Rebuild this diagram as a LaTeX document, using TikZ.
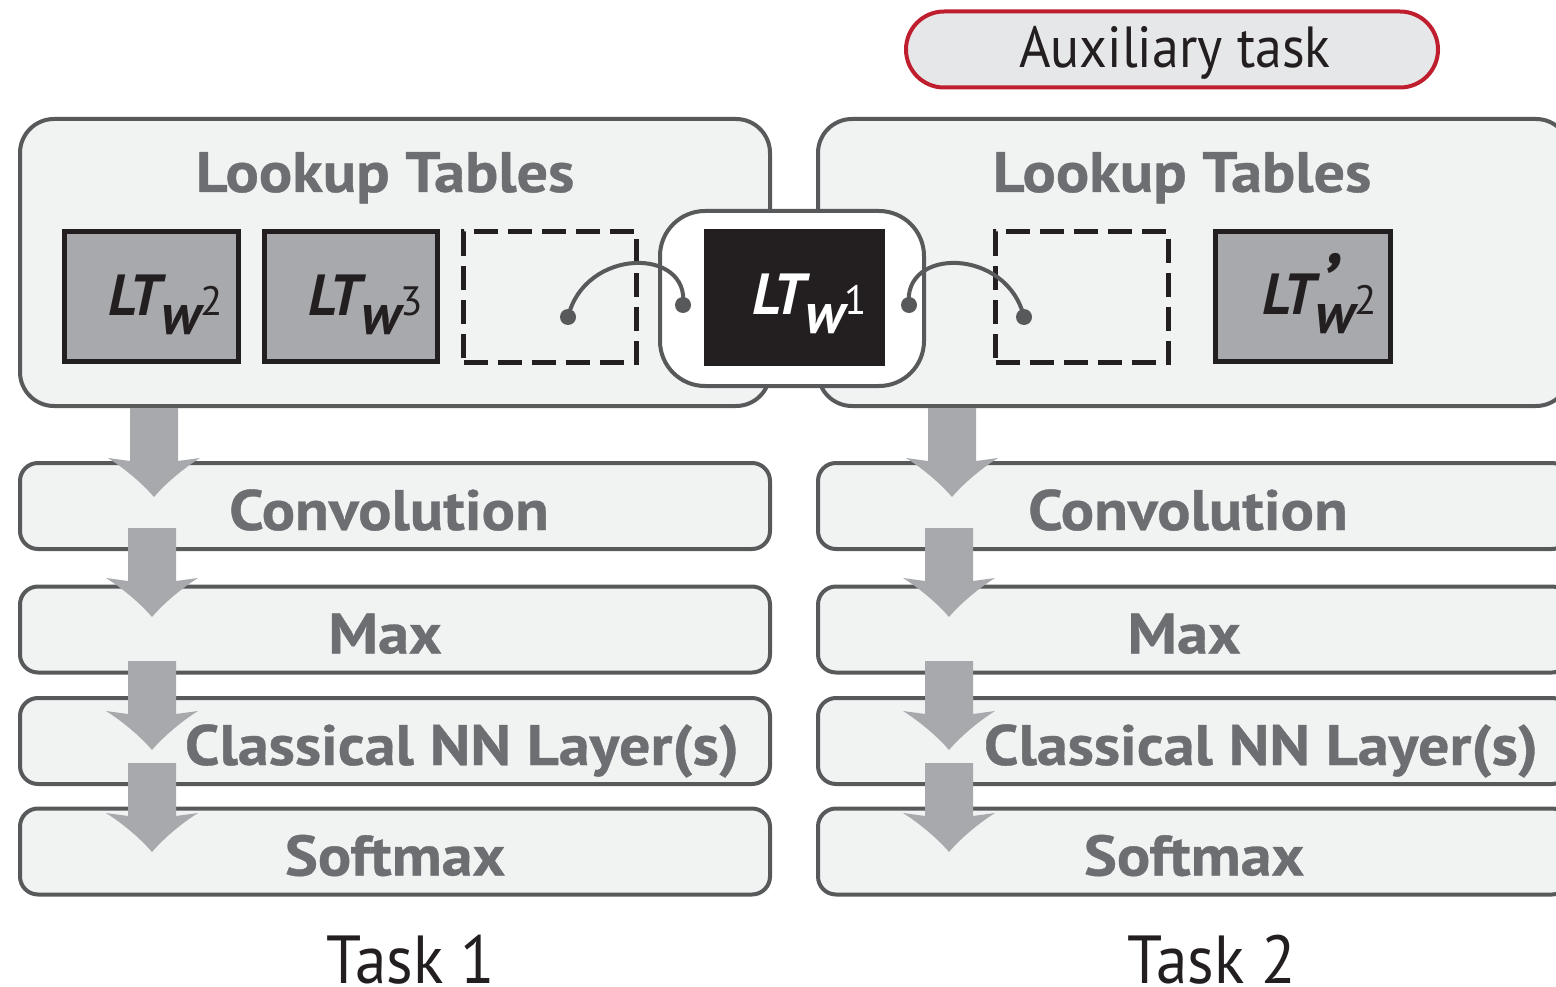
\documentclass[tikz,border=0pt]{standalone}
\usepackage{fontspec}
\setmainfont{PT Sans}
\newfontfamily\panelfont[FakeStretch=1.09, FakeBold=0.6]{PT Sans Bold}
\newfontfamily\narrowfont[FakeStretch=0.93]{PT Sans}
\usetikzlibrary{calc}

\definecolor{panelfill}{HTML}{F1F2F2}
\definecolor{edgegray}{HTML}{58595B}
\definecolor{labelgray}{HTML}{6D6E71}
\definecolor{arrowgray}{HTML}{A7A9AC}
\definecolor{ltfill}{HTML}{A7A9AC}
\definecolor{ltedge}{HTML}{231F20}
\definecolor{auxfill}{HTML}{E6E7E8}
\definecolor{auxred}{HTML}{BE1E2D}

\tikzset{
  panel/.style={draw=edgegray, fill=panelfill, line width=4pt, rounded corners=34pt, minimum height=287pt},
  layer/.style={draw=edgegray, fill=panelfill, line width=4pt, rounded corners=18pt},
  paneltext/.style={text=labelgray, font=\panelfont\fontsize{57}{60}\selectfont, inner sep=0pt},
  ltbox/.style={draw=ltedge, fill=ltfill, line width=5pt, minimum height=130pt},
  slotbox/.style={draw=ltedge, dash pattern=on 24pt off 10pt, line width=5pt, minimum width=173pt, minimum height=130pt},
  dot/.style={circle, fill=edgegray, inner sep=0pt, minimum size=16pt},
  link/.style={draw=edgegray, line width=4pt},
  tasktext/.style={text=ltedge, font=\narrowfont\fontsize{68}{70}\selectfont, inner sep=0pt}
}

% label LT_{w^k}, #1 = extra mark after T
\newcommand{\ltw}[2]{{\fontsize{58}{60}\selectfont\bfseries\itshape LT#1\raisebox{-19pt}{w}}{\fontsize{41}{44}\selectfont #2}}
\newcommand{\ltmark}{\makebox[0pt][l]{\hspace{4pt}\raisebox{3pt}{\fontsize{82}{82}\selectfont ’}}}

% block arrow: x, top, shaft length
\newcommand{\flowarrow}[3]{%
  \fill[arrowgray, shift={(#1,#2)}] (-24,0) -- (-24,#3+3) -- (-46,#3)
    .. controls (-30,#3+10) and (-12,#3+25) .. (0,#3+39)
    .. controls (12,#3+25) and (30,#3+10) .. (46,#3) -- (24,#3+3) -- (24,0) -- cycle;}

\begin{document}
\begin{tikzpicture}[x=1pt, y=-1pt]
  \useasboundingbox (0,0) rectangle (1556,987);
  \clip (0,0) rectangle (1556,987);

  % auxiliary task
  \node[draw=auxred, fill=auxfill, line width=4pt, rounded corners=38pt,
        minimum width=532pt, minimum height=76pt] (aux) at (1172,49.5) {};
  \node[text=ltedge, font=\narrowfont\fontsize{58}{60}\selectfont, inner sep=0pt, anchor=base] (auxtext) at (1175,68) {Auxiliary task};

  % lookup tables
  \node[panel, minimum width=750pt] (lookL) at (395,262.5) {};
  \node[panel, minimum width=752pt] (lookR) at (1194,262.5) {};
  \node[paneltext, anchor=base] (lookLtext) at (385,192) {Lookup Tables};
  \node[paneltext, anchor=base] (lookRtext) at (1182,192) {Lookup Tables};

  % layers
  \foreach \yc/\id/\txt/\dx in {506/conv/Convolution/-6, 629.5/max/Max/-10,
      741/nn/Classical NN Layer(s)/67, 851.5/soft/Softmax/0} {
    \node[layer, minimum width=750pt, minimum height=86pt] (\id-L) at (395,\yc) {};
    \node[layer, minimum width=752pt, minimum height=86pt] (\id-R) at (1194,\yc) {};
    \node[paneltext, anchor=base] at ($(\id-L.center)+(\dx,24)$) {\txt};
    \node[paneltext, anchor=base] at ($(\id-R.center)+(\dx,24)$) {\txt};
  }

  % shared table
  \node[draw=edgegray, fill=white, line width=4pt, rounded corners=45pt,
        minimum width=264pt, minimum height=175pt] (shared) at (792,298.5) {};
  \node[fill=ltedge, minimum width=181pt, minimum height=137pt] (ltone) at (794.5,297.5) {};
  \node[text=white, inner sep=0pt, anchor=base west] at (752,314) {\ltw{}{1}};

  % task tables
  \node[ltbox, minimum width=174pt] (lttwo) at (151.5,296.5) {};
  \node[ltbox, minimum width=173pt] (ltthree) at (351,296.5) {};
  \node[slotbox] (slotL) at (550,297) {};
  \node[slotbox] (slotR) at (1082,297) {};
  \node[ltbox, minimum width=175pt] (lttwoR) at (1303,296.5) {};
  \node[text=ltedge, inner sep=0pt, anchor=base west] at (108,316) {\ltw{}{2}};
  \node[text=ltedge, inner sep=0pt, anchor=base west] at (308,316) {\ltw{}{3}};
  \node[text=ltedge, inner sep=0pt, anchor=base west] at (1262,314) {\ltw{\ltmark}{2}};

  % links to the shared table
  \node[dot] (dotA) at (568,317) {};
  \node[dot] (dotB) at (683,305) {};
  \node[dot] (dotC) at (909,305) {};
  \node[dot] (dotD) at (1024,317) {};
  \draw[link] (dotA.center) .. controls (585,247) and (690,247) .. (dotB.center);
  \draw[link] (dotC.center) .. controls (902,247) and (1007,247) .. (dotD.center);

  % flow arrows
  \flowarrow{154}{408}{50}
  \flowarrow{152}{528}{50}
  \flowarrow{152}{661}{50}
  \flowarrow{152}{763}{50}
  \flowarrow{952}{408}{50}
  \flowarrow{949}{528}{50}
  \flowarrow{949}{661}{50}
  \flowarrow{949}{763}{50}

  % tasks
  \node[tasktext, anchor=base] (taskone) at (411,983) {Task 1};
  \node[tasktext, anchor=base] (tasktwo) at (1212,983) {Task 2};
\end{tikzpicture}
\end{document}
